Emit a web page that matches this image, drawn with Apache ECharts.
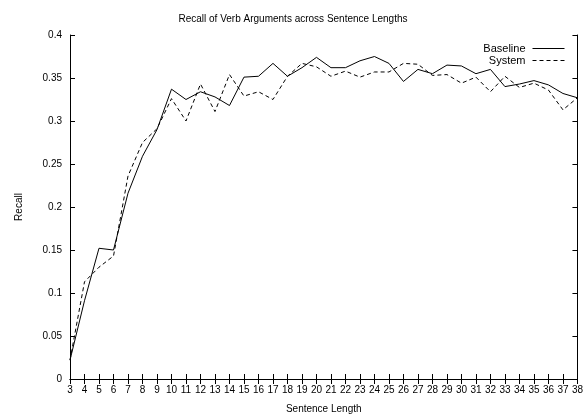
<!DOCTYPE html>
<html><head><meta charset="utf-8">
<script src="https://cdn.jsdelivr.net/npm/echarts@6/dist/echarts.min.js"></script>
<style>html,body{margin:0;padding:0;background:#fff}#c{width:586px;height:419px}</style>
</head><body><div id="c"></div>
<script>
var lengths = [3,4,5,6,7,8,9,10,11,12,13,14,15,16,17,18,19,20,21,22,23,24,25,26,27,28,29,30,31,32,33,34,35,36,37,38];
var baseline = [0.022,0.091,0.152,0.150,0.216,0.259,0.290,0.337,0.325,0.334,0.328,0.318,0.351,0.352,0.367,0.352,0.362,0.374,0.362,0.362,0.370,0.375,0.367,0.346,0.360,0.355,0.365,0.364,0.355,0.360,0.340,0.343,0.347,0.342,0.332,0.327];
var system = [0.022,0.113,0.130,0.143,0.236,0.275,0.291,0.326,0.300,0.343,0.311,0.354,0.329,0.334,0.325,0.352,0.367,0.363,0.352,0.358,0.351,0.357,0.357,0.367,0.366,0.353,0.354,0.344,0.351,0.334,0.352,0.339,0.344,0.336,0.313,0.327];

var font = 'Liberation Sans, Arial, Helvetica, sans-serif';
function pairs(v){ return lengths.map(function(x,i){ return [x, v[i]]; }); }
var chart = echarts.init(document.getElementById('c'), null, {renderer:'canvas'});
var axisLine = {show:true, lineStyle:{color:'#000', width:1}};
var tick = {show:true, inside:true, length:5, lineStyle:{color:'#000', width:1}};
chart.setOption({
  animation:false,
  backgroundColor:'#fff',
  title:{text:'Recall of Verb Arguments across Sentence Lengths', left:'center', top:9,
    textStyle:{fontFamily:font, fontSize:10, fontWeight:'normal', color:'#000'}},
  legend:{right:16, top:38, orient:'vertical', align:'right', itemWidth:32, itemHeight:10, itemGap:1,
    itemStyle:{opacity:0}, lineStyle:{width:1},
    textStyle:{fontFamily:font, fontSize:11, color:'#000', padding:[0,2,0,0]},
    data:['Baseline','System']},
  grid:{left:70, right:8, top:35, bottom:38, containLabel:false},
  xAxis:[
    {type:'value', min:3, max:38, interval:1, name:'Sentence Length', nameLocation:'middle', nameGap:25,
     nameTextStyle:{fontFamily:font, fontSize:10, color:'#000'},
     axisLine:axisLine, axisTick:tick, splitLine:{show:false},
     axisLabel:{fontFamily:font, fontSize:10, color:'#000', margin:6}},
    {type:'value', position:'top', min:3, max:38, interval:1,
     axisLine:axisLine, axisTick:tick, splitLine:{show:false}, axisLabel:{show:false}}
  ],
  yAxis:[
    {type:'value', min:0, max:0.4, interval:0.05, name:'Recall', nameLocation:'middle', nameGap:46,
     nameTextStyle:{fontFamily:font, fontSize:10, color:'#000'},
     axisLine:axisLine, axisTick:tick, splitLine:{show:false},
     axisLabel:{fontFamily:font, fontSize:10, color:'#000', margin:8}},
    {type:'value', position:'right', min:0, max:0.4, interval:0.05,
     axisLine:axisLine, axisTick:tick, splitLine:{show:false}, axisLabel:{show:false}}
  ],
  series:[
    {name:'Baseline', type:'line', data:pairs(baseline), symbol:'none', color:'#000',
     lineStyle:{color:'#000', width:1, type:'solid'}},
    {name:'System', type:'line', data:pairs(system), symbol:'none', color:'#000',
     lineStyle:{color:'#000', width:1, type:[4,3]}}
  ]
});
</script></body></html>
